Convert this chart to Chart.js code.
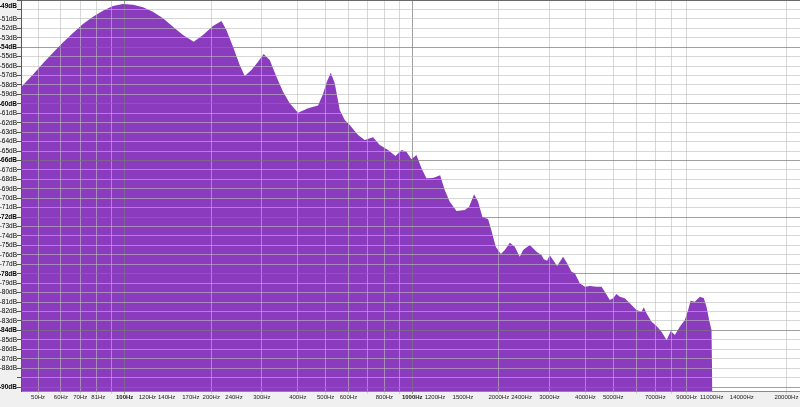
<!DOCTYPE html>
<html>
<head>
<meta charset="utf-8">
<script src="https://cdn.jsdelivr.net/npm/chart.js@4"></script>
<style>
html, body { margin:0; padding:0; background:#f0f0f0; }
#wrap { width:800px; height:407px; }
</style>
</head>
<body>
<div id="wrap"><canvas id="spectrum" width="800" height="407"></canvas></div>
<script>
const freqs = [43.6, 48.0, 52.0, 56.3, 61.0, 66.1, 71.6, 77.6, 84.0, 91.1, 98.6, 106.9, 115.8, 125.4, 135.9, 147.2, 159.5, 173.8, 187.2, 202.8,
  217.0, 225.8, 238.1, 251.2, 261.5, 275.9, 290.9, 304.4, 319.4, 337.1, 355.3, 374.9, 400.7, 434.2, 470.3, 489.5, 504.3, 520.7, 537.6, 559.6,
  582.5, 606.3, 647.9, 683.6, 730.7, 770.9, 823.9, 874.3, 917.3, 954.5, 993.6, 1034, 1077, 1120, 1181, 1250, 1297, 1350, 1425, 1523,
  1576, 1641, 1694, 1755, 1835, 1875, 1952, 2032, 2098, 2184, 2273, 2365, 2429, 2563, 2704, 2814, 2867, 2944, 3008, 3088,
  3189, 3346, 3455, 3579, 3675, 3825, 3981, 4144, 4373, 4551, 4673, 4864, 4994, 5132, 5269, 5484, 5708, 6022, 6269, 6385,
  6525, 6792, 7070, 7359, 7660, 7927, 8185, 8520, 8868, 9106, 9284, 9607, 10000, 10325, 10550, 10770, 10980, 11070];

const levels = [-58.25, -56.9, -55.7, -54.6, -53.5, -52.5, -51.55, -50.77, -50.13, -49.64, -49.42, -49.5, -49.77, -50.24, -50.94, -51.83, -52.71, -53.42, -52.71, -51.75,
  -51.22, -52.18, -53.95, -55.89, -57.05, -56.42, -55.54, -54.72, -55.36, -57.13, -58.71, -59.94, -60.94, -60.47, -60.18, -58.96, -57.69, -56.7, -57.82, -60.65,
  -61.71, -62.24, -63.3, -63.83, -63.54, -64.36, -64.89, -65.53, -64.89, -65.07, -65.88, -65.42, -66.83, -67.89, -67.86, -67.57, -69.13, -70.37, -71.35, -71.25,
  -70.9, -69.58, -70.37, -72.02, -72.2, -73.18, -75.13, -75.91, -75.48, -74.71, -75.13, -76.19, -75.48, -74.95, -75.66, -76.01, -76.47, -76.62, -76.04, -76.54,
  -77.18, -76.19, -76.89, -77.78, -77.95, -79.01, -79.37, -79.3, -79.37, -79.37, -79.9, -80.78, -80.6, -80.14, -80.43, -80.6, -81.13, -81.84, -82.02, -81.55,
  -82.19, -83.08, -83.53, -84.14, -85.02, -84.06, -84.49, -83.61, -82.9, -81.84, -80.85, -80.96, -80.43, -80.6, -81.49, -82.9, -83.96, -92];

const freqLabels = [50, 60, 70, 81, 100, 120, 140, 170, 200, 240, 300, 400, 500, 600, 800,
  1000, 1200, 1500, 2000, 2400, 3000, 4000, 5000, 7000, 9000, 11000, 14000, 20000];
const gridFreqs = [50, 60, 70, 80, 90, 100, 200, 300, 400, 500, 600, 700, 800, 900,
  1000, 2000, 3000, 4000, 5000, 6000, 7000, 8000, 9000, 20000];
const boldFreqs = [100, 1000];

const dbTicks = [-49, -50, -51, -52, -53, -54, -55, -56, -57, -58, -59, -60, -61, -62, -63, -64, -65, -66, -67, -68, -69,
  -70, -71, -72, -73, -74, -75, -76, -77, -78, -79, -80, -81, -82, -83, -84, -85, -86, -87, -88, -89, -90];
const dbHidden = [-50, -89];
const dbBold = [-49, -54, -60, -66, -72, -78, -84, -90];

const PURPLE = '#8a3bbe';
const MINOR = 'rgba(190,190,190,0.6)';
const MAJOR = 'rgba(120,120,120,0.7)';

const xTicks = [...new Set([...freqLabels, ...gridFreqs])].sort((a, b) => a - b);

const bgPlugin = {
  id: 'bg',
  beforeDraw(chart) {
    const c = chart.ctx, a = chart.chartArea;
    c.save();
    c.fillStyle = '#f0f0f0';
    c.fillRect(0, 0, chart.width, chart.height);
    c.fillStyle = '#ffffff';
    c.fillRect(a.left, a.top, a.right - a.left, a.bottom - a.top);
    c.restore();
  }
};

new Chart(document.getElementById('spectrum'), {
  type: 'line',
  data: {
    datasets: [{
      data: freqs.map((f, i) => ({ x: f, y: levels[i] })),
      fill: 'start',
      backgroundColor: PURPLE,
      borderColor: PURPLE,
      borderWidth: 0,
      pointRadius: 0,
      tension: 0
    }]
  },
  options: {
    responsive: false,
    animation: false,
    events: [],
    layout: { padding: 0 },
    plugins: { legend: { display: false }, tooltip: { enabled: false } },
    scales: {
      x: {
        type: 'logarithmic',
        position: 'bottom',
        min: 43.6,
        max: 22300,
        afterBuildTicks: s => { s.ticks = xTicks.map(v => ({ value: v })); },
        afterFit: s => { s.height = 16; s.paddingLeft = 0; s.paddingRight = 0; },
        border: { color: '#8a8a8a', z: 1 },
        grid: {
          z: 1,
          tickLength: 3,
          color: ctx => {
            const v = ctx.tick && ctx.tick.value;
            if (boldFreqs.includes(v)) return MAJOR;
            if (gridFreqs.includes(v)) return MINOR;
            return 'rgba(0,0,0,0)';
          }
        },
        ticks: {
          autoSkip: false,
          maxRotation: 0,
          padding: 0,
          color: '#222',
          font: ctx => ({
            family: 'Liberation Sans, Arial, sans-serif',
            size: 6,
            weight: ctx.tick && boldFreqs.includes(ctx.tick.value) ? 'bold' : 'normal'
          }),
          callback: v => freqLabels.includes(v) ? v + 'Hz' : ''
        }
      },
      y: {
        type: 'linear',
        min: -90.42,
        max: -49,
        afterBuildTicks: s => { s.ticks = dbTicks.map(v => ({ value: v })); },
        afterFit: s => { s.width = 21; s.paddingTop = 0; s.paddingBottom = 0; },
        border: { color: '#5a5a5a', z: 1 },
        grid: {
          z: 1,
          tickLength: 4,
          color: ctx => {
            const v = ctx.tick && ctx.tick.value;
            if (v === -49) return '#6a6a6a';
            return v % 6 === 0 ? MAJOR : MINOR;
          },
          tickColor: '#555'
        },
        ticks: {
          autoSkip: false,
          padding: 0,
          color: '#000',
          font: ctx => {
            const v = ctx.tick && ctx.tick.value;
            return {
              family: 'Liberation Sans, Arial, sans-serif',
              size: 6.5,
              weight: dbBold.includes(v) ? 'bold' : 'normal',
              lineHeight: v === -49 ? 1.8 : 1.2
            };
          },
          callback: v => {
            if (dbHidden.includes(v)) return '';
            if (v === -49) return ['', v + 'dB'];
            return v + 'dB';
          }
        }
      }
    }
  },
  plugins: [bgPlugin]
});
</script>
</body>
</html>
